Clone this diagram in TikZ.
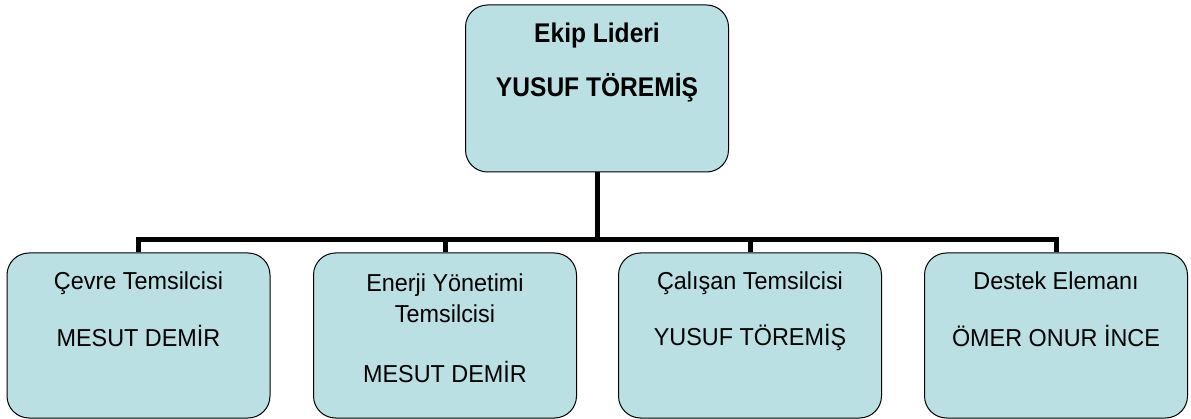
\documentclass[tikz,border=0pt]{standalone}
\usepackage{fontspec}
\usepackage{graphicx}
\setmainfont{Liberation Sans}
\definecolor{boxfill}{HTML}{BAE0E3}
\newcommand{\narrowc}[1]{\scalebox{0.955}[1]{#1}}
\newcommand{\narrowt}[1]{\scalebox{0.91}[1]{#1}}
\begin{document}
\begin{tikzpicture}[x=1pt,y=-1pt,
  box/.style={draw=black, line width=1pt, fill=boxfill, rounded corners=22pt,
    minimum width=263pt, inner sep=0pt},
  topbox/.style={box, minimum height=167pt},
  childbox/.style={box, minimum height=165pt},
  conn/.style={line width=5pt},
  lbl/.style={font=\fontsize{24.5}{29}\selectfont, inner sep=0pt, anchor=base},
  toplbl/.style={font=\fontsize{27}{32}\selectfont\bfseries, inner sep=0pt, anchor=base}]
\useasboundingbox (0,0) rectangle (1191,419);
% boxes
\node[topbox] (lead) at (597,88.5) {};
\node[childbox] (c1) at (138.5,335.5) {};
\node[childbox] (c2) at (445,335.5) {};
\node[childbox] (c3) at (750,335.5) {};
\node[childbox] (c4) at (1056,335.5) {};
\coordinate (bus) at (597,240);
% connectors
\draw[conn] (lead.south) -- (bus);
\draw[conn] (bus) -| (c1.north);
\draw[conn] (bus) -| (c2.north);
\draw[conn] (bus) -| (c3.north);
\draw[conn] (bus) -| (c4.north);
% labels
\node[toplbl] (t1) at (597,43) {\narrowt{Ekip Lideri}};
\node[toplbl] (t2) at (597,97) {\narrowt{YUSUF TÖREMİŞ}};
\node[lbl] (a1) at (138.5,290) {\narrowc{Çevre Temsilcisi}};
\node[lbl] (a2) at (138.5,347) {\narrowc{MESUT DEMİR}};
\node[lbl] (b1) at (445,292) {\narrowc{Enerji Yönetimi}};
\node[lbl] (b2) at (445,323) {\narrowc{Temsilcisi}};
\node[lbl] (b3) at (445,382) {\narrowc{MESUT DEMİR}};
\node[lbl] (d1) at (750,290) {\narrowc{Çalışan Temsilcisi}};
\node[lbl] (d2) at (750,345) {\narrowc{YUSUF TÖREMİŞ}};
\node[lbl] (e1) at (1056,290) {\narrowc{Destek Elemanı}};
\node[lbl] (e2) at (1056,347) {\narrowc{ÖMER ONUR İNCE}};
\end{tikzpicture}
\end{document}
